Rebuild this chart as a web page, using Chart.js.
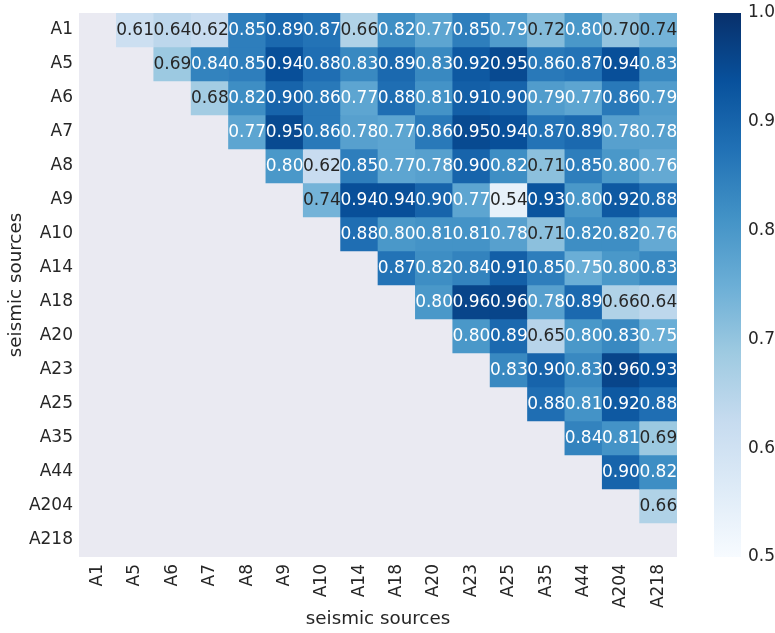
<!DOCTYPE html>
<html>
<head>
<meta charset="utf-8">
<script src="https://cdn.jsdelivr.net/npm/chart.js@4/dist/chart.umd.min.js"></script>
<style>
  html, body { margin: 0; padding: 0; background: #ffffff; }
  #wrap { width: 775px; height: 633px; position: relative; }
</style>
</head>
<body>
<div id="wrap"><canvas id="c" width="775" height="633"></canvas></div>
<script>
// Seismic source names (rows and columns share the same order)
const sources = ['A1', 'A5', 'A6', 'A7', 'A8', 'A9', 'A10', 'A14', 'A18', 'A20', 'A23', 'A25', 'A35', 'A44', 'A204', 'A218'];

// Upper-triangle correlation values, one array per row (null = masked cell)
const corrA1   = [null, 0.61, 0.64, 0.62, 0.85, 0.89, 0.87, 0.66, 0.82, 0.77, 0.85, 0.79, 0.72, 0.80, 0.70, 0.74];
const corrA5   = [null, null, 0.69, 0.84, 0.85, 0.94, 0.88, 0.83, 0.89, 0.83, 0.92, 0.95, 0.86, 0.87, 0.94, 0.83];
const corrA6   = [null, null, null, 0.68, 0.82, 0.90, 0.86, 0.77, 0.88, 0.81, 0.91, 0.90, 0.79, 0.77, 0.86, 0.79];
const corrA7   = [null, null, null, null, 0.77, 0.95, 0.86, 0.78, 0.77, 0.86, 0.95, 0.94, 0.87, 0.89, 0.78, 0.78];
const corrA8   = [null, null, null, null, null, 0.80, 0.62, 0.85, 0.77, 0.78, 0.90, 0.82, 0.71, 0.85, 0.80, 0.76];
const corrA9   = [null, null, null, null, null, null, 0.74, 0.94, 0.94, 0.90, 0.77, 0.54, 0.93, 0.80, 0.92, 0.88];
const corrA10  = [null, null, null, null, null, null, null, 0.88, 0.80, 0.81, 0.81, 0.78, 0.71, 0.82, 0.82, 0.76];
const corrA14  = [null, null, null, null, null, null, null, null, 0.87, 0.82, 0.84, 0.91, 0.85, 0.75, 0.80, 0.83];
const corrA18  = [null, null, null, null, null, null, null, null, null, 0.80, 0.96, 0.96, 0.78, 0.89, 0.66, 0.64];
const corrA20  = [null, null, null, null, null, null, null, null, null, null, 0.80, 0.89, 0.65, 0.80, 0.83, 0.75];
const corrA23  = [null, null, null, null, null, null, null, null, null, null, null, 0.83, 0.90, 0.83, 0.96, 0.93];
const corrA25  = [null, null, null, null, null, null, null, null, null, null, null, null, 0.88, 0.81, 0.92, 0.88];
const corrA35  = [null, null, null, null, null, null, null, null, null, null, null, null, null, 0.84, 0.81, 0.69];
const corrA44  = [null, null, null, null, null, null, null, null, null, null, null, null, null, null, 0.90, 0.82];
const corrA204 = [null, null, null, null, null, null, null, null, null, null, null, null, null, null, null, 0.66];
const corrA218 = [null, null, null, null, null, null, null, null, null, null, null, null, null, null, null, null];

const corrRows = [corrA1, corrA5, corrA6, corrA7, corrA8, corrA9, corrA10, corrA14,
                  corrA18, corrA20, corrA23, corrA25, corrA35, corrA44, corrA204, corrA218];

// Colour scale range and colorbar ticks
const vmin = 0.5, vmax = 1.0;
const colorbarTicks = [0.5, 0.6, 0.7, 0.8, 0.9, 1.0];

// "Blues" sequential palette anchors
const bluesStops = [
  [247, 251, 255], [222, 235, 247], [198, 219, 239], [158, 202, 225], [107, 174, 214],
  [66, 146, 198], [33, 113, 181], [8, 81, 156], [8, 48, 107]
];

// 256-level lookup, like a quantised colormap
function bluesRGB(v) {
  let t = (v - vmin) / (vmax - vmin);
  t = Math.max(0, Math.min(1, t));
  const idx = Math.min(255, Math.floor(t * 256));
  const q = idx / 255;
  const pos = q * (bluesStops.length - 1);
  const i = Math.min(Math.floor(pos), bluesStops.length - 2);
  const f = pos - i;
  const a = bluesStops[i], b = bluesStops[i + 1];
  return [0, 1, 2].map(k => a[k] + (b[k] - a[k]) * f);
}
function rgbStr(c) { return 'rgb(' + c.map(x => Math.round(x)).join(',') + ')'; }
function luminance(c) {
  const l = c.map(x => {
    const s = x / 255;
    return s <= 0.03928 ? s / 12.92 : Math.pow((s + 0.055) / 1.055, 2.4);
  });
  return 0.2126 * l[0] + 0.7152 * l[1] + 0.0722 * l[2];
}

const FONT = "'DejaVu Sans', 'Liberation Sans', sans-serif";
const TEXT_DARK = '#262626';
const TICK_SIZE = 17;
const TITLE_SIZE = 18.3;

// One bar dataset per row: each cell is a floating bar spanning [row-0.5, row+0.5]
const datasets = corrRows.map((row, r) => ({
  label: sources[r],
  data: row.map(v => (v === null ? null : [r - 0.5, r + 0.5])),
  values: row,
  backgroundColor: row.map(v => (v === null ? 'rgba(0,0,0,0)' : rgbStr(bluesRGB(v)))),
  borderWidth: 0,
  grouped: false,
  barPercentage: 1.0,
  categoryPercentage: 1.0
}));

const panelBackground = {
  id: 'panelBackground',
  beforeDatasetsDraw(chart) {
    const { ctx, chartArea: a } = chart;
    ctx.save();
    ctx.fillStyle = '#EAEAF2';
    ctx.fillRect(a.left, a.top, a.right - a.left, a.bottom - a.top);
    ctx.restore();
  }
};

const cellLabels = {
  id: 'cellLabels',
  afterDatasetsDraw(chart) {
    const ctx = chart.ctx;
    ctx.save();
    ctx.font = TICK_SIZE + 'px ' + FONT;
    ctx.textAlign = 'center';
    ctx.textBaseline = 'middle';
    chart.data.datasets.forEach((ds, di) => {
      const meta = chart.getDatasetMeta(di);
      ds.values.forEach((v, j) => {
        if (v === null) return;
        const el = meta.data[j];
        const yMid = (el.y + el.base) / 2;
        ctx.fillStyle = luminance(bluesRGB(v)) > 0.405 ? TEXT_DARK : '#ffffff';
        ctx.fillText(v.toFixed(2), el.x, yMid + 1);
      });
    });
    ctx.restore();
  }
};

const colorbar = {
  id: 'colorbar',
  afterDraw(chart) {
    const { ctx, chartArea: a } = chart;
    const s = chart.scales.cbar;
    const x0 = a.right + 37, w = 27;
    const yTop = s.getPixelForValue(vmax), yBot = s.getPixelForValue(vmin);
    const g = ctx.createLinearGradient(0, yBot, 0, yTop);
    bluesStops.forEach((c, i) => g.addColorStop(i / (bluesStops.length - 1), rgbStr(c)));
    ctx.save();
    ctx.fillStyle = g;
    ctx.fillRect(x0, yTop, w, yBot - yTop);
    ctx.restore();
  }
};

function noEdgePadding(s) {
  s.paddingTop = 0; s.paddingBottom = 0; s.paddingLeft = 0; s.paddingRight = 0;
}

new Chart(document.getElementById('c'), {
  type: 'bar',
  data: { labels: sources, datasets },
  options: {
    responsive: false,
    animation: false,
    devicePixelRatio: 1,
    layout: { padding: { top: 13, left: 0, right: 0, bottom: 0 } },
    plugins: { legend: { display: false }, tooltip: { enabled: false } },
    scales: {
      x: {
        type: 'category',
        offset: true,
        grid: { display: false, drawTicks: false },
        border: { display: false },
        ticks: {
          color: TEXT_DARK,
          font: { family: FONT, size: TICK_SIZE },
          minRotation: 90, maxRotation: 90,
          autoSkip: false,
          padding: 7
        },
        title: {
          display: true, text: 'seismic sources', color: TEXT_DARK,
          font: { family: FONT, size: TITLE_SIZE }, padding: { top: 0, bottom: 3 }
        },
        afterFit(s) { s.height = 76; noEdgePadding(s); }
      },
      y: {
        type: 'linear',
        min: -0.5, max: 15.5,
        reverse: true,
        grid: { display: false, drawTicks: false },
        border: { display: false },
        ticks: {
          autoSkip: false,
          color: TEXT_DARK,
          font: { family: FONT, size: TICK_SIZE },
          padding: 6,
          callback(v) { return Number.isInteger(v) ? sources[v] : null; }
        },
        afterBuildTicks(s) { s.ticks = sources.map((_, i) => ({ value: i })); },
        title: {
          display: true, text: 'seismic sources', color: TEXT_DARK,
          font: { family: FONT, size: TITLE_SIZE }, padding: { top: 5, bottom: 0 }
        },
        afterFit(s) { s.width = 79; noEdgePadding(s); }
      },
      cbar: {
        type: 'linear',
        position: 'right',
        min: vmin, max: vmax,
        grid: { display: false, drawTicks: false },
        border: { display: false },
        ticks: {
          color: TEXT_DARK,
          font: { family: FONT, size: TICK_SIZE },
          padding: 71,
          autoSkip: false,
          callback(v) { return v.toFixed(1); }
        },
        afterBuildTicks(s) { s.ticks = colorbarTicks.map(v => ({ value: v })); },
        afterFit(s) { s.width = 98; noEdgePadding(s); }
      }
    }
  },
  plugins: [panelBackground, cellLabels, colorbar]
});
</script>
</body>
</html>
